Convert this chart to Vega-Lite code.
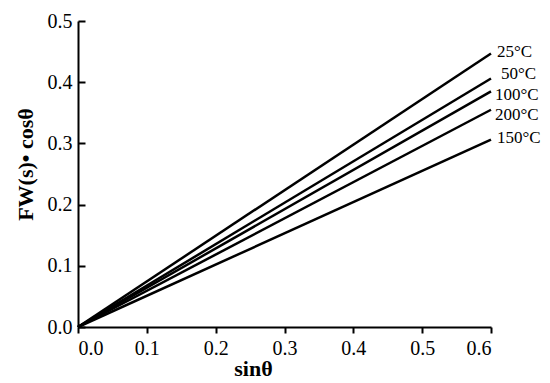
{
  "$schema": "https://vega.github.io/schema/vega-lite/v6.json",
  "width": 413,
  "height": 306,
  "autosize": {"type": "none"},
  "padding": {"left": 78, "top": 21, "right": 59, "bottom": 56},
  "background": "white",
  "config": {
    "view": {"stroke": null},
    "font": "Liberation Serif",
    "text": {"font": "Liberation Serif", "fontSize": 17, "color": "black", "align": "left", "baseline": "middle"},
    "axis": {"grid": false, "domainColor": "black", "domainWidth": 2, "tickColor": "black", "tickWidth": 2, "labelFont": "Liberation Serif", "labelFontSize": 20, "labelColor": "black", "titleFont": "Liberation Serif", "titleFontSize": 22, "titleFontWeight": "bold", "titleColor": "black"}
  },
  "data": {
    "values": [
      {"series": "25°C", "x": 0, "y": 0},
      {"series": "25°C", "x": 0.6, "y": 0.447},
      {"series": "50°C", "x": 0, "y": 0},
      {"series": "50°C", "x": 0.6, "y": 0.406},
      {"series": "100°C", "x": 0, "y": 0},
      {"series": "100°C", "x": 0.6, "y": 0.385},
      {"series": "200°C", "x": 0, "y": 0},
      {"series": "200°C", "x": 0.6, "y": 0.355},
      {"series": "150°C", "x": 0, "y": 0},
      {"series": "150°C", "x": 0.6, "y": 0.306}
    ]
  },
  "encoding": {
    "x": {"field": "x", "type": "quantitative", "scale": {"domain": [0, 0.6], "nice": false}, "axis": {"values": [0, 0.1, 0.2, 0.3, 0.4, 0.5, 0.6], "format": ".1f", "tickSize": 6, "labelPadding": 5, "title": "sinθ", "titleX": 175, "titleY": 41, "titleBaseline": "middle"}},
    "y": {"field": "y", "type": "quantitative", "scale": {"domain": [0, 0.5], "nice": false}, "axis": {"values": [0, 0.1, 0.2, 0.3, 0.4, 0.5], "format": ".1f", "tickSize": -7, "labelPadding": 13, "title": "FW(s)• cosθ", "titleX": -53, "titleY": 143, "titleBaseline": "middle"}}
  },
  "layer": [
    {"mark": {"type": "line", "color": "black", "strokeWidth": 2.5}, "encoding": {"detail": {"field": "series"}}},
    {"transform": [{"filter": "datum.x == 0.6 && datum.series == '25°C'"}], "mark": {"type": "text", "dx": 6, "dy": -1}, "encoding": {"text": {"field": "series"}}},
    {"transform": [{"filter": "datum.x == 0.6 && datum.series == '50°C'"}], "mark": {"type": "text", "dx": 10, "dy": -5}, "encoding": {"text": {"field": "series"}}},
    {"transform": [{"filter": "datum.x == 0.6 && datum.series == '100°C'"}], "mark": {"type": "text", "dx": 4, "dy": 4}, "encoding": {"text": {"field": "series"}}},
    {"transform": [{"filter": "datum.x == 0.6 && datum.series == '200°C'"}], "mark": {"type": "text", "dx": 4, "dy": 5}, "encoding": {"text": {"field": "series"}}},
    {"transform": [{"filter": "datum.x == 0.6 && datum.series == '150°C'"}], "mark": {"type": "text", "dx": 6, "dy": -2}, "encoding": {"text": {"field": "series"}}}
  ]
}
